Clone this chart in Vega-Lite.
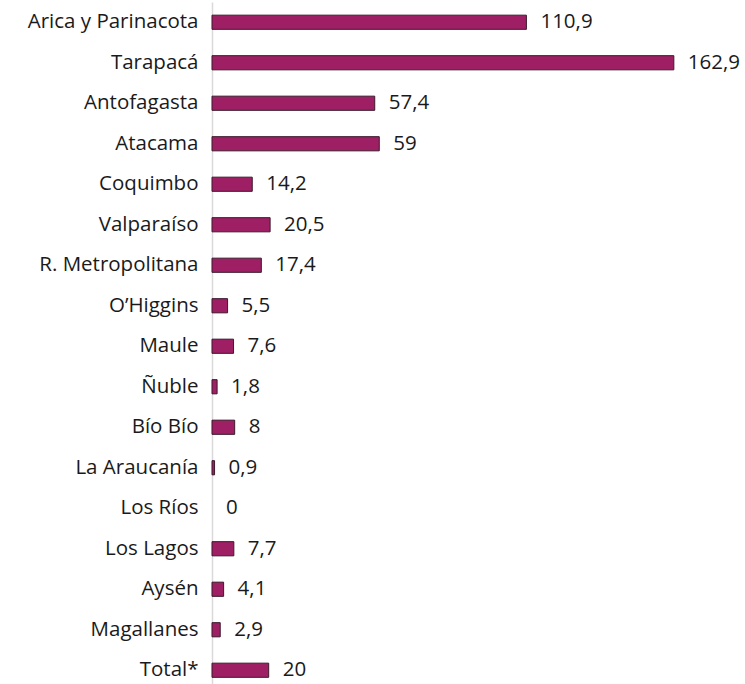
{
  "$schema": "https://vega.github.io/schema/vega-lite/v6.json",
  "width": 533,
  "height": 688.5,
  "autosize": {"type": "none"},
  "padding": {"left": 212, "top": 2, "right": 0, "bottom": 0},
  "background": "white",
  "config": {
    "view": {"stroke": null},
    "font": "Open Sans",
    "locale": {"number": {"decimal": ",", "thousands": ".", "grouping": [3], "currency": ["$", ""]}}
  },
  "data": {
    "values": [
      {"region": "Arica y Parinacota", "value": 110.9},
      {"region": "Tarapacá", "value": 162.9},
      {"region": "Antofagasta", "value": 57.4},
      {"region": "Atacama", "value": 59},
      {"region": "Coquimbo", "value": 14.2},
      {"region": "Valparaíso", "value": 20.5},
      {"region": "R. Metropolitana", "value": 17.4},
      {"region": "O’Higgins", "value": 5.5},
      {"region": "Maule", "value": 7.6},
      {"region": "Ñuble", "value": 1.8},
      {"region": "Bío Bío", "value": 8},
      {"region": "La Araucanía", "value": 0.9},
      {"region": "Los Ríos", "value": 0},
      {"region": "Los Lagos", "value": 7.7},
      {"region": "Aysén", "value": 4.1},
      {"region": "Magallanes", "value": 2.9},
      {"region": "Total*", "value": 20}
    ]
  },
  "encoding": {
    "y": {
      "field": "region", "type": "nominal", "sort": null,
      "scale": {"paddingInner": 0.65, "paddingOuter": 0.325},
      "axis": {"title": null, "ticks": false, "domainColor": "#d9d9d9", "domainWidth": 1.5, "labelFontSize": 20.5, "labelColor": "#1a1a1a", "labelPadding": 14, "labelFont": "Open Sans", "grid": false}
    },
    "x": {
      "field": "value", "type": "quantitative",
      "scale": {"domain": [0, 188], "nice": false},
      "axis": null
    }
  },
  "layer": [
    {"mark": {"type": "bar", "color": "#9E1F63", "stroke": "#3b1a2c", "strokeWidth": 1},
     "encoding": {"strokeOpacity": {"condition": {"test": "datum.value === 0", "value": 0}, "value": 1}}},
    {"mark": {"type": "text", "align": "left", "dx": 14, "fontSize": 20.5, "color": "#1a1a1a", "baseline": "middle", "font": "Open Sans"},
     "encoding": {"text": {"field": "value", "type": "quantitative", "format": ".1~f"}}}
  ]
}
